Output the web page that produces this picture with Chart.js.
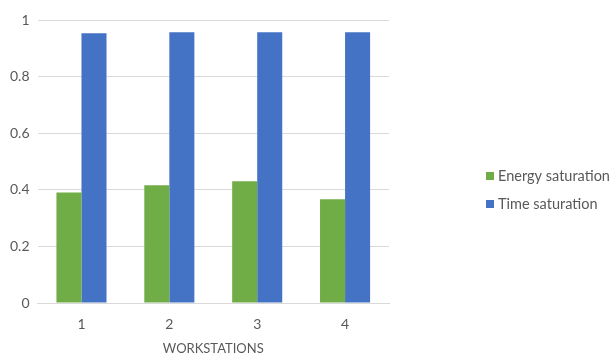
<!DOCTYPE html>
<html>
<head>
<meta charset="utf-8">
<script src="https://cdn.jsdelivr.net/npm/chart.js@4/dist/chart.umd.min.js"></script>
<style>
  html, body { margin: 0; padding: 0; background: #fff; }
  #wrap { width: 614px; height: 357px; position: relative; }
</style>
</head>
<body>
<div id="wrap"><canvas id="chart"></canvas></div>
<script>
const workstations = ['1', '2', '3', '4'];
const energySaturation = [0.391, 0.416, 0.43, 0.367];
const timeSaturation = [0.953, 0.957, 0.957, 0.957];
const yTicks = [0, 0.2, 0.4, 0.6, 0.8, 1];

const FONT = 'Lato, "Open Sans", sans-serif';
const TEXT = '#595959';
const GRID = '#d9d9d9';

// legend drawn on the right, Excel style (small squares)
const sideLegend = {
  id: 'sideLegend',
  afterDraw(chart) {
    const ctx = chart.ctx;
    const x = 486, y0 = 176, step = 28;
    ctx.save();
    ctx.font = '14.5px ' + FONT;
    ctx.textBaseline = 'middle';
    chart.data.datasets.forEach((ds, i) => {
      const y = y0 + i * step;
      ctx.fillStyle = ds.backgroundColor;
      ctx.fillRect(x, y - 4, 8, 8);
      ctx.fillStyle = TEXT;
      ctx.fillText(ds.label, x + 12, y);
    });
    ctx.restore();
  }
};

new Chart(document.getElementById('chart'), {
  type: 'bar',
  data: {
    labels: workstations,
    datasets: [
      { label: 'Energy saturation', data: energySaturation, backgroundColor: '#70ad47' },
      { label: 'Time saturation', data: timeSaturation, backgroundColor: '#4472c4' }
    ]
  },
  options: {
    responsive: true,
    maintainAspectRatio: false,
    animation: false,
    datasets: { bar: { categoryPercentage: 0.57, barPercentage: 1 } },
    layout: { padding: { left: 2, right: 225, top: 20, bottom: 0 } },
    plugins: { legend: { display: false }, tooltip: { enabled: false } },
    scales: {
      x: {
        grid: { display: false, drawTicks: false },
        border: { color: GRID },
        ticks: { color: TEXT, font: { family: FONT, size: 14 }, padding: 12.5 },
        title: { display: true, text: 'WORKSTATIONS', color: TEXT, font: { family: FONT, size: 13 }, padding: { top: -3.5, bottom: 0 } }
      },
      y: {
        min: 0,
        max: 1,
        afterBuildTicks(axis) { axis.ticks = yTicks.map(v => ({ value: v })); },
        grid: { color: GRID, drawTicks: false },
        border: { display: false },
        ticks: { color: TEXT, font: { family: FONT, size: 14 }, padding: 8,
                 callback: v => String(v) }
      }
    }
  },
  plugins: [sideLegend]
});
</script>
</body>
</html>
